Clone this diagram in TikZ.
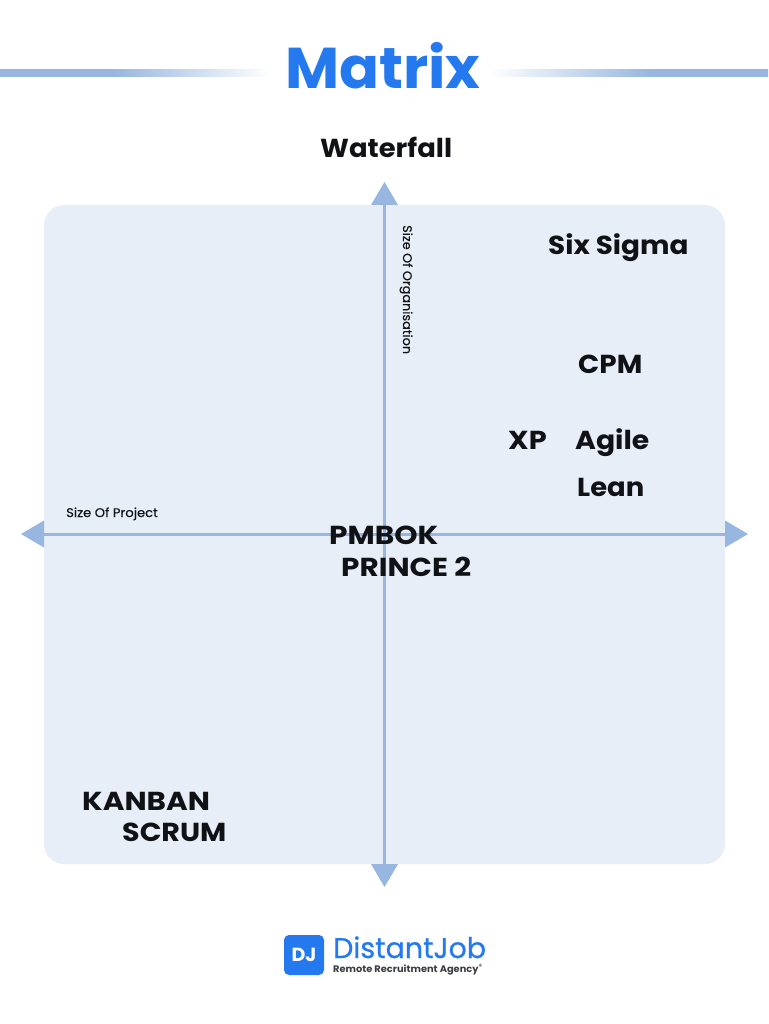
\documentclass[tikz,border=0pt]{standalone}
\usepackage{fontspec}
\setmainfont{Poppins}
\newfontfamily\bigfont[FakeStretch=1.055]{Poppins}
\newfontfamily\titlefont[FakeStretch=1.025]{Poppins}
\newfontfamily\smallfont[FakeStretch=1.05,FakeBold=0.25]{Poppins}
\newfontfamily\tagfont[FakeStretch=1.035]{Poppins}
\newfontfamily\brandfont[FakeStretch=1.0,FakeBold=0.6]{Poppins}
\definecolor{panelfill}{HTML}{E8EEF7}
\definecolor{axisblue}{HTML}{97B6E0}
\definecolor{brandblue}{HTML}{2479EE}
\definecolor{inkdark}{HTML}{101216}
\definecolor{taggrey}{HTML}{3A3D42}
\pgfdeclarehorizontalshading{ruleleft}{100bp}{color(0bp)=(axisblue); color(25bp)=(axisblue); color(46bp)=(axisblue); color(75bp)=(white); color(100bp)=(white)}
\pgfdeclarehorizontalshading{ruleright}{100bp}{color(0bp)=(white); color(25bp)=(white); color(54bp)=(axisblue); color(75bp)=(axisblue); color(100bp)=(axisblue)}
\tikzset{
  label big/.style={anchor=base west,inner sep=0pt,text=inkdark,font=\bigfont\fontsize{26}{30}\selectfont\bfseries},
  label small/.style={inner sep=0pt,text=inkdark,font=\smallfont\fontsize{12.5}{14}\selectfont},
  axis line/.style={draw=axisblue,line width=3pt},
  axis tip/.style={fill=axisblue},
}
\begin{document}
\begin{tikzpicture}[x=1pt,y=-1pt]
\useasboundingbox (0,0) rectangle (768,1024);
\fill[white] (0,0) rectangle (768,1024);
% title rules
\shade[shading=ruleleft] (0,70) rectangle (270,77);
\shade[shading=ruleright] (490,70) rectangle (768,77);
\node[anchor=base west,inner sep=0pt,text=brandblue,font=\titlefont\fontsize{57.5}{60}\selectfont\bfseries] (title) at (285,89) {Matrix};
% panel
\fill[panelfill,rounded corners=20pt] (44,205) rectangle (725,864);
% axes
\coordinate (top) at (384.5,205);
\coordinate (bottom) at (384.5,864);
\coordinate (left) at (44,534);
\coordinate (right) at (725,534);
\draw[axis line] (top) -- (bottom);
\draw[axis line] (left) -- (right);
\fill[axis tip] (384.5,182) -- (371,205) -- (398,205) -- cycle;
\fill[axis tip] (384.5,887) -- (371,864) -- (398,864) -- cycle;
\fill[axis tip] (21,534) -- (44,520.5) -- (44,547.5) -- cycle;
\fill[axis tip] (748,534) -- (725,520.5) -- (725,547.5) -- cycle;
% axis labels
\node[label small,anchor=base west] (proj) at (66,517) {Size Of Project};
\node[label small,anchor=base west,rotate=-90,xscale=0.978] (org) at (403,225) {Size Of Organisation};
% method labels
\node[label big] (waterfall) at (320,158) {Waterfall};
\node[label big,xscale=1.015] (sixsigma) at (548,254.3) {Six Sigma};
\node[label big,xscale=1.015] (cpm) at (578,373.3) {CPM};
\node[label big,xscale=1.05] (xp) at (508,449.5) {XP};
\node[label big,xscale=1.03] (agile) at (575,449.5) {Agile};
\node[label big] (lean) at (577,496.3) {Lean};
\node[label big,xscale=1.08] (pmbok) at (329,544) {PMBOK};
\node[label big,xscale=1.075] (prince) at (341,576) {PRINCE 2};
\node[label big,xscale=1.075] (kanban) at (82,810) {KANBAN};
\node[label big,xscale=1.04] (scrum) at (122,841) {SCRUM};
% logo
\fill[brandblue,rounded corners=5pt] (284,935) rectangle (324,975);
\node[inner sep=0pt,text=white,font=\fontsize{19}{20}\selectfont\bfseries] (dj) at (304,955) {DJ};
\node[anchor=base west,inner sep=0pt,text=brandblue,font=\brandfont\fontsize{28.5}{30}\selectfont] (brand) at (333,958) {DistantJob};
\node[anchor=base west,inner sep=0pt,text=taggrey,font=\tagfont\fontsize{9.5}{10}\selectfont\bfseries] (tag) at (333,972) {Remote Recruitment Agency};
\node[anchor=base west,inner sep=0pt,text=taggrey,font=\fontsize{7.5}{8}\selectfont] (reg) at (478.5,969) {®};
\end{tikzpicture}
\end{document}
